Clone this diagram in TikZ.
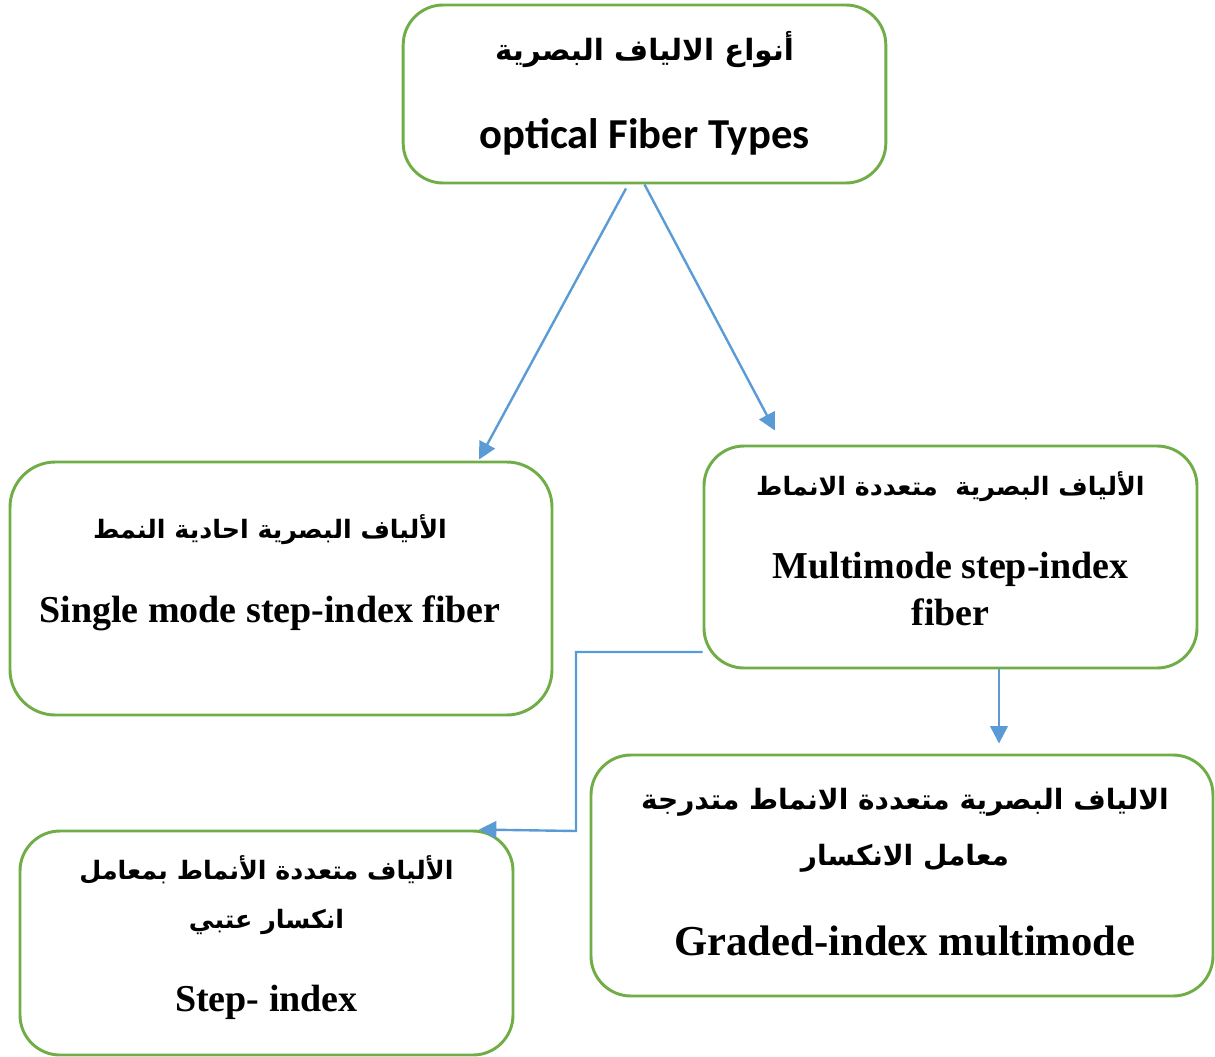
\documentclass[tikz,border=0pt]{standalone}
\usepackage{fontspec}
\usetikzlibrary{arrows.meta,calc}
\TeXXeTstate=1
\newfontfamily\arfont[Script=Arabic]{DejaVu Sans}
\newfontfamily\enfont{Liberation Serif}
\newfontfamily\calfont{Carlito}
\definecolor{boxgreen}{HTML}{70AD47}
\definecolor{arrblue}{HTML}{5B9BD5}

\begin{document}
\begin{tikzpicture}[x=0.75pt,y=-0.75pt,
        box/.style={draw=boxgreen,line width=2.2pt,rounded corners=30pt,inner sep=0pt},
        arr/.style={draw=arrblue,line width=1.8pt,-{Triangle[length=13pt,width=13pt]}},
        ar/.style={anchor=base,inner sep=0pt,font=\arfont\bfseries\fontsize{19}{26}\selectfont},
        en/.style={anchor=base,inner sep=0pt,font=\enfont\bfseries\fontsize{28.5}{36}\selectfont}]
    \useasboundingbox (0,0) rectangle (1215,1057);

    % boxes
    \node[box,minimum width=362pt,minimum height=133.5pt] (types) at (644.5,94) {};
    \node[box,minimum width=406.5pt,minimum height=189.75pt,rounded corners=34pt] (single) at (281,588.5) {};
    \node[box,minimum width=369.75pt,minimum height=166.5pt] (multi) at (950.5,557) {};
    \node[box,minimum width=466.5pt,minimum height=180.75pt] (graded) at (902,875.5) {};
    \node[box,minimum width=369.75pt,minimum height=168pt] (step) at (266.5,943) {};

    % texts
    \node[ar,font=\arfont\bfseries\fontsize{22}{30}\selectfont] (typesar) at ($(types.north)+(0,57)$) {\beginR أنواع الالياف البصرية\endR};
    \node[anchor=base,inner sep=0pt,font=\calfont\bfseries\fontsize{32}{38}\selectfont]
        (typesen) at ($(types.north)+(0,145)$) {optical Fiber Types};

    \node[ar] (singlear) at ($(single.north)+(-11,78)$) {\beginR الألياف البصرية احادية النمط\endR};
    \node[en] (singleen) at ($(single.north)+(-11,162)$) {Single mode step-index fiber};

    \node[ar] (multiar) at ($(multi.north)+(0,51)$) {\beginR الألياف البصرية\ \ متعددة الانماط\endR};
    \node[en] (multien) at ($(multi.north)+(0,134)$) {Multimode step-index};
    \node[en] (multien2) at ($(multi.north)+(0,181)$) {fiber};

    \node[ar,font=\arfont\bfseries\fontsize{21}{28}\selectfont] (gradedar) at ($(graded.north)+(3,56)$) {\beginR الالياف البصرية متعددة الانماط متدرجة\endR};
    \node[ar,font=\arfont\bfseries\fontsize{21}{28}\selectfont] (gradedar2) at ($(graded.north)+(3,112)$) {\beginR معامل الانكسار\endR};
    \node[en,font=\enfont\bfseries\fontsize{32}{38}\selectfont] (gradeden) at ($(graded.north)+(3,202)$) {Graded-index multimode};

    \node[ar] (stepar) at ($(step.north)+(0,50)$) {\beginR الألياف متعددة الأنماط بمعامل\endR};
    \node[ar] (stepar2) at ($(step.north)+(0,99)$) {\beginR انكسار عتبي\endR};
    \node[en] (stepen) at ($(step.north)+(0,182)$) {Step- index};

    % arrows
    \draw[arr] ($(types.south)+(-18.5,4)$) -- ($(single.north)+(198,-1)$);
    \draw[arr] (types.south) -- ($(multi.north)+(-175.5,-14)$);
    \draw[arr] ($(multi.south)+(48.5,0)$) -- ($(graded.north)+(97,-10)$);
    \coordinate (elbow) at (576,831);
    \draw[arr] ($(multi.west)+(0,95)$) -| (elbow) -- ($(step.north)+(212.5,0)$);
\end{tikzpicture}
\end{document}
